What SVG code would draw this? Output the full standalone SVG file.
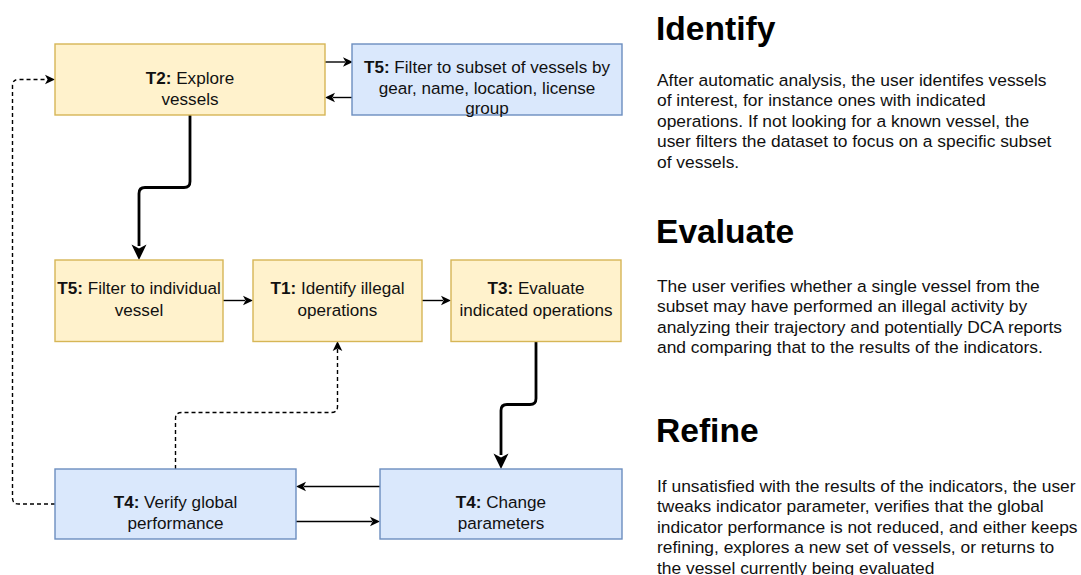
<svg xmlns="http://www.w3.org/2000/svg" width="1081" height="575" viewBox="0 0 1081 575">
<style>
.y{fill:#fff2cc;stroke:#d6b656;stroke-width:1.4}
.b{fill:#dae8fc;stroke:#6c8ebf;stroke-width:1.4}
.t{font-family:"Liberation Sans",Arial,sans-serif;font-size:17.1px;fill:#111;text-anchor:middle}
.h{font-family:"Liberation Sans",Arial,sans-serif;font-size:33.6px;font-weight:bold;fill:#000}
.p{font-family:"Liberation Sans",Arial,sans-serif;font-size:17.4px;fill:#111}
.e{fill:none;stroke:#000;stroke-width:1.4}
.k{fill:none;stroke:#000;stroke-width:2.8}
.d{fill:none;stroke:#000;stroke-width:1.4;stroke-dasharray:4 3}
</style>
<defs>
<marker id="a" markerUnits="userSpaceOnUse" orient="auto" refX="0" refY="0" markerWidth="30" markerHeight="30" overflow="visible">
<path d="M8 0 L-2 -4.8 L0.6 0 L-2 4.8 Z" fill="#000"/>
</marker>
<marker id="A" markerUnits="userSpaceOnUse" orient="auto" refX="0" refY="0" markerWidth="40" markerHeight="40" overflow="visible">
<path d="M14 0 L-1.5 -7.5 L2.5 0 L-1.5 7.5 Z" fill="#000"/>
</marker>
</defs>
<rect width="1081" height="575" fill="#fff"/>
<g id="connectors">
<path class="e" d="M325 62 H345" marker-end="url(#a)"/>
<path class="e" d="M352 97.5 H333" marker-end="url(#a)"/>
<path class="k" d="M190 115 V181.5 Q190 187.5 184 187.5 H145 Q139 187.5 139 193.5 V246" marker-end="url(#A)"/>
<path class="e" d="M223 300.5 H245" marker-end="url(#a)"/>
<path class="e" d="M422 300.5 H443" marker-end="url(#a)"/>
<path class="k" d="M536 341 V398.5 Q536 404.5 530 404.5 H507 Q501 404.5 501 410.5 V455" marker-end="url(#A)"/>
<path class="e" d="M380 486.5 H304" marker-end="url(#a)"/>
<path class="e" d="M296 521.5 H372" marker-end="url(#a)"/>
<path class="d" d="M175.5 469 V418.5 Q175.5 412.5 181.5 412.5 H331.5 Q337.5 412.5 337.5 406.5 V349" marker-end="url(#a)"/>
<path class="d" d="M55 504 H18.5 Q12.5 504 12.5 498 V85.5 Q12.5 79.5 18.5 79.5 H47" marker-end="url(#a)"/>
</g>
<g id="t2">
<rect class="y" x="55" y="44" width="270" height="71"/>
<text class="t" x="190" y="84"><tspan font-weight="bold">T2:</tspan> Explore</text>
<text class="t" x="190" y="105">vessels</text>
</g>
<g id="t5-subset">
<rect class="b" x="352" y="44" width="270" height="71"/>
<text class="t" x="487" y="73"><tspan font-weight="bold">T5:</tspan> Filter to subset of vessels by</text>
<text class="t" x="487" y="93.5">gear, name, location, license</text>
<text class="t" x="487" y="114">group</text>
</g>
<g id="t5-individual">
<rect class="y" x="55" y="260" width="168" height="81.5"/>
<text class="t" x="139" y="294"><tspan font-weight="bold">T5:</tspan> Filter to individual</text>
<text class="t" x="139" y="315.5">vessel</text>
</g>
<g id="t1">
<rect class="y" x="253" y="260" width="169" height="81.5"/>
<text class="t" x="337.5" y="294"><tspan font-weight="bold">T1:</tspan> Identify illegal</text>
<text class="t" x="337.5" y="315.5">operations</text>
</g>
<g id="t3">
<rect class="y" x="451" y="260" width="170" height="81.5"/>
<text class="t" x="536" y="294"><tspan font-weight="bold">T3:</tspan> Evaluate</text>
<text class="t" x="536" y="315.5">indicated operations</text>
</g>
<g id="t4-verify">
<rect class="b" x="55" y="469" width="241" height="70"/>
<text class="t" x="175.5" y="507.5"><tspan font-weight="bold">T4:</tspan> Verify global</text>
<text class="t" x="175.5" y="528.5">performance</text>
</g>
<g id="t4-change">
<rect class="b" x="380" y="469" width="242" height="70"/>
<text class="t" x="501" y="507.5"><tspan font-weight="bold">T4:</tspan> Change</text>
<text class="t" x="501" y="528.5">parameters</text>
</g>
<g id="identify">
<text class="h" x="656" y="40">Identify</text>
<text class="p" x="657" y="85.5">
<tspan x="657">After automatic analysis, the user identifes vessels</tspan>
<tspan x="657" dy="20.6">of interest, for instance ones with indicated</tspan>
<tspan x="657" dy="20.6">operations. If not looking for a known vessel, the</tspan>
<tspan x="657" dy="20.6">user filters the dataset to focus on a specific subset</tspan>
<tspan x="657" dy="20.6">of vessels.</tspan>
</text>
</g>
<g id="evaluate">
<text class="h" x="656" y="243">Evaluate</text>
<text class="p" x="657" y="291.5">
<tspan x="657">The user verifies whether a single vessel from the</tspan>
<tspan x="657" dy="20.6">subset may have performed an illegal activity by</tspan>
<tspan x="657" dy="20.6">analyzing their trajectory and potentially DCA reports</tspan>
<tspan x="657" dy="20.6">and comparing that to the results of the indicators.</tspan>
</text>
</g>
<g id="refine">
<text class="h" x="656" y="442">Refine</text>
<text class="p" x="657" y="491.5">
<tspan x="657">If unsatisfied with the results of the indicators, the user</tspan>
<tspan x="657" dy="20.6">tweaks indicator parameter, verifies that the global</tspan>
<tspan x="657" dy="20.6">indicator performance is not reduced, and either keeps</tspan>
<tspan x="657" dy="20.6">refining, explores a new set of vessels, or returns to</tspan>
<tspan x="657" dy="20.6">the vessel currently being evaluated</tspan>
</text>
</g>
</svg>
